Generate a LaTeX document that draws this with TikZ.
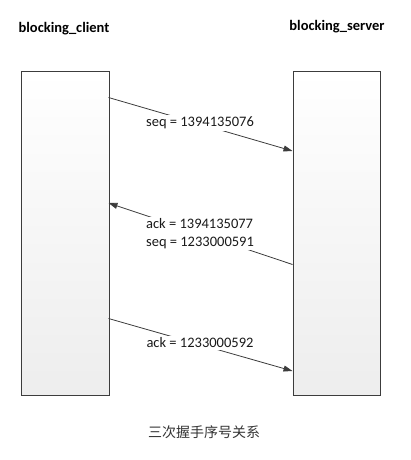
\documentclass[tikz,border=0pt]{standalone}
\usepackage{fontspec}
\setmainfont{Carlito}
\newfontfamily\cjk{Noto Sans CJK SC}
\usetikzlibrary{arrows.meta}
\definecolor{edge}{HTML}{3C3C3C}
\definecolor{txt}{HTML}{1A1A1A}
\tikzset{
  lifebox/.style={draw=edge, line width=0.9pt, top color=white, bottom color=black!7, minimum width=88pt, minimum height=324pt, inner sep=0pt, anchor=north west},
  msg/.style={draw=edge, line width=0.8pt, -{Triangle[length=9pt,width=6pt]}},
  lbl/.style={fill=white, inner sep=1.5pt, font=\fontsize{14.5}{18.5}\selectfont, text=txt, align=left},
  ttl/.style={font=\fontsize{14.5}{17}\selectfont\bfseries, text=black},
}
\begin{document}
\begin{tikzpicture}[x=1pt,y=-1pt]
\useasboundingbox (0,0) rectangle (410,460);
\node[ttl] (tc) at (64,29) {blocking\_client};
\node[ttl] (ts) at (337,27) {blocking\_server};
\node[lifebox] (cl) at (20.5,71) {};
\node[lifebox, minimum width=87pt] (sv) at (292.5,71) {};
\coordinate (a1s) at (108.5,97.5);
\coordinate (a1e) at (292.5,151);
\coordinate (a2s) at (292.5,264.5);
\coordinate (a2e) at (108.5,203);
\coordinate (a3s) at (108.5,318.5);
\coordinate (a3e) at (292.5,371);
\draw[msg] (a1s) -- (a1e);
\draw[msg] (a2s) -- (a2e);
\draw[msg] (a3s) -- (a3e);
\node[lbl] (l1) at (200,123) {seq = 1394135076};
\node[lbl] (l2) at (200,233.5) {ack = 1394135077\\seq = 1233000591};
\node[lbl] (l3) at (200,343) {ack = 1233000592};
\node[font=\cjk\fontsize{14}{16}\selectfont, text=black!80] (cap) at (204,432) {三次握手序号关系};
\end{tikzpicture}
\end{document}
